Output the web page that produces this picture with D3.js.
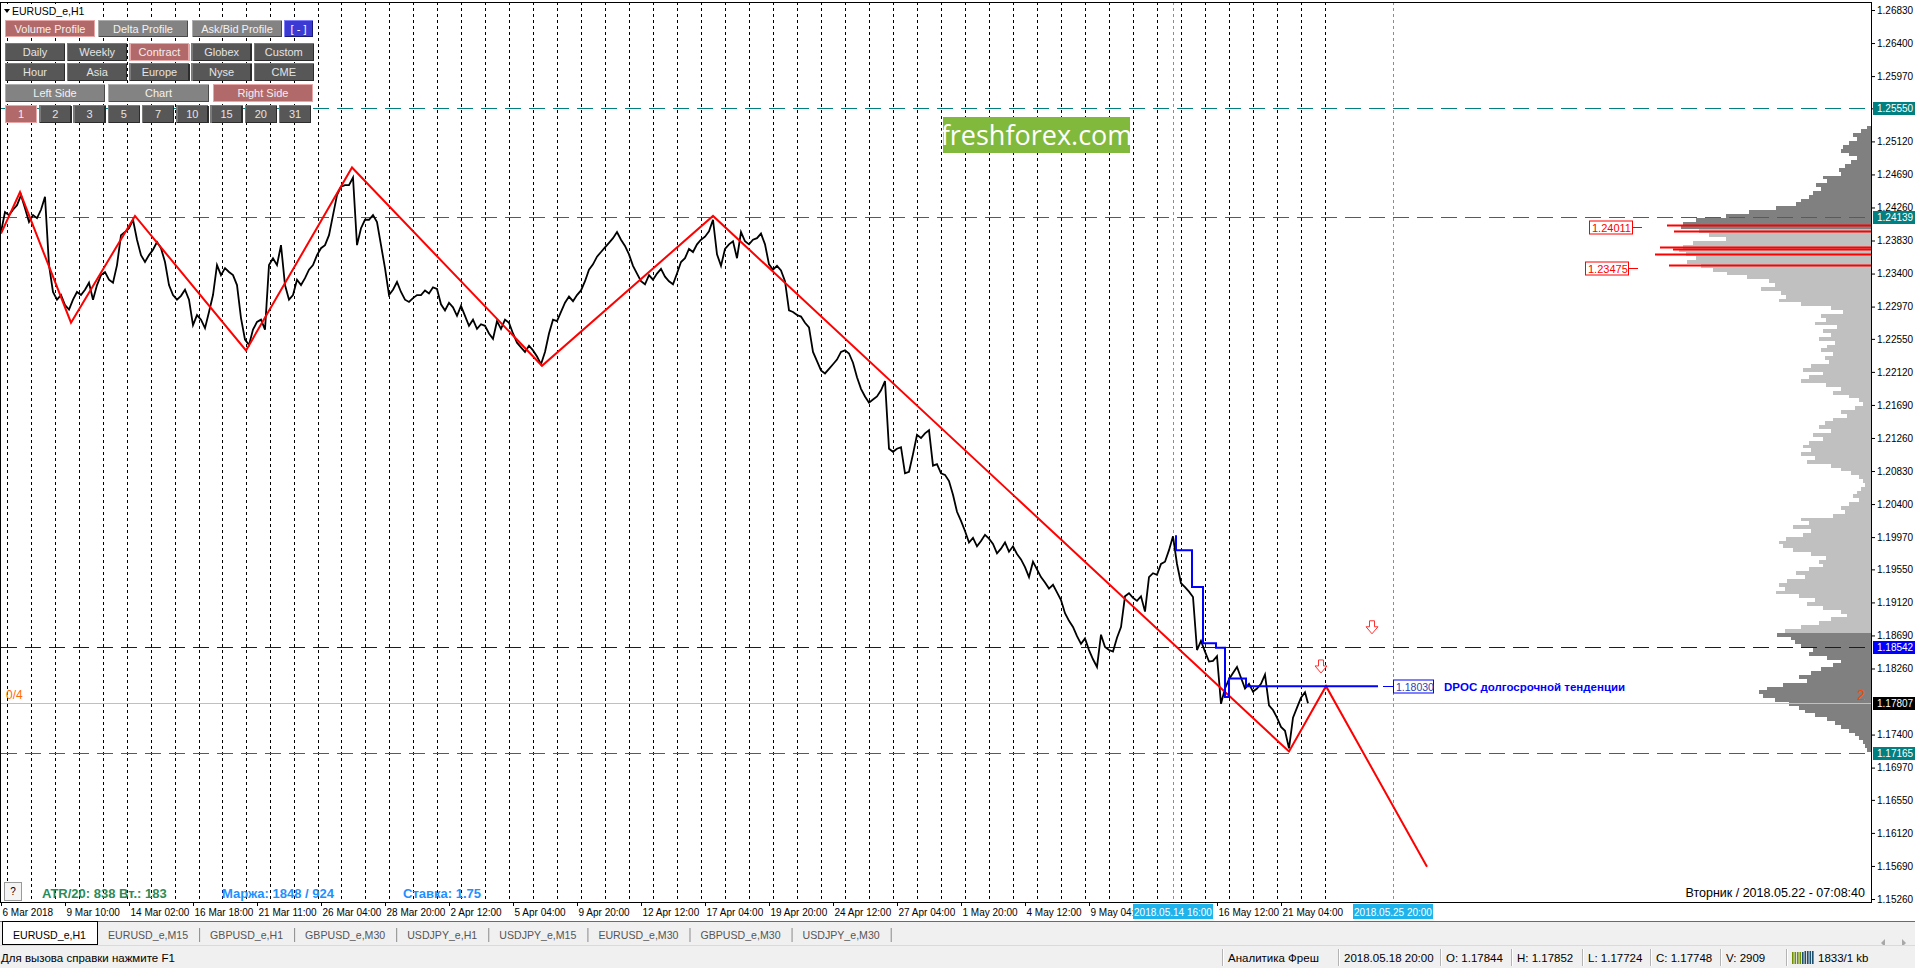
<!DOCTYPE html>
<html>
<head>
<meta charset="utf-8">
<script src="https://cdn.jsdelivr.net/npm/d3@7.9.0/dist/d3.min.js"></script>
<style>
  html, body { margin: 0; padding: 0; background: #fff; overflow: hidden; }
  svg { display: block; font-family: "Liberation Sans", Arial, sans-serif; }
</style>
</head>
<body>
<svg id="chart" width="1915" height="968"></svg>
<script>
// ---- data ----
const startTime = '2018-03-06 18:00';
const lastTime = '2018-06-01 23:00';
const missingHours = ['2018-03-19 00:00', '2018-03-26 00:00'];
const lastCloseTime = '2018-05-22 07:00';
const separatorsUntil = '2018-05-23 23:00';

// H1 closes, one value every 4 bars from startTime
const closeStep = 4;
const closes = [
  1.2394,1.2420,1.2416,1.2423,1.2429,1.2442,1.2425,1.2407,1.2416,1.2412,
  1.2423,1.2440,1.2351,1.2316,1.2306,1.2312,1.2299,1.2293,1.2306,1.2316,
  1.2312,1.2319,1.2328,1.2306,1.2325,1.2338,1.2342,1.2332,1.2328,1.2351,
  1.2390,1.2394,1.2399,1.2410,1.2384,1.2364,1.2355,1.2364,1.2371,1.2381,
  1.2373,1.2355,1.2325,1.2312,1.2306,1.2311,1.2319,1.2306,1.2273,1.2286,
  1.2280,1.2269,1.2290,1.2312,1.2351,1.2338,1.2347,1.2342,1.2338,1.2325,
  1.2282,1.2254,1.2247,1.2267,1.2277,1.2280,1.2267,1.2351,1.2360,1.2351,
  1.2377,1.2325,1.2306,1.2312,1.2332,1.2325,1.2334,1.2345,1.2351,1.2364,
  1.2373,1.2377,1.2390,1.2416,1.2442,1.2453,1.2455,1.2455,1.2465,1.2377,
  1.2399,1.2410,1.2410,1.2416,1.2407,1.2377,1.2347,1.2312,1.2319,1.2329,
  1.2316,1.2306,1.2303,1.2308,1.2312,
  1.2312,1.2318,1.2314,1.2322,1.2320,1.2300,1.2292,1.2302,1.2296,1.2285,
  1.2298,1.2285,1.2272,1.2280,1.2268,1.2274,1.2272,1.2262,1.2255,1.2278,
  1.2268,1.2280,1.2276,1.2262,1.2250,1.2244,1.2238,1.2246,1.2240,1.2232,
  1.2222,1.2238,1.2262,1.2280,1.2278,1.2290,1.2302,1.2310,1.2304,1.2312,
  1.2318,1.2330,1.2345,1.2352,1.2362,1.2368,1.2374,1.2380,1.2386,1.2394,
  1.2384,1.2376,1.2365,1.2350,1.2340,1.2330,1.2326,1.2338,1.2332,1.2340,
  1.2346,1.2336,1.2330,1.2326,1.2340,1.2355,1.2360,1.2372,1.2368,1.2378,
  1.2384,
  1.2388,1.2395,1.2410,1.2365,1.2350,1.2372,1.2378,1.2382,1.2360,1.2394,
  1.2382,1.2378,1.2384,1.2386,1.2392,1.2378,1.2352,1.2345,1.2350,1.2344,
  1.2330,1.2292,1.2290,1.2286,1.2284,1.2276,1.2270,1.2238,1.2226,1.2214,
  1.2210,1.2216,1.2222,1.2228,1.2238,1.2240,1.2236,1.2224,1.2205,1.2190,
  1.2180,1.2172,1.2176,1.2180,1.2188,1.2200,1.2112,1.2108,1.2112,1.2114,
  1.2080,1.2082,1.2105,1.2130,1.2126,1.2132,1.2136,1.2090,1.2092,1.2080,
  1.2078,1.2070,1.2052,
  1.2030,1.2018,1.2005,1.1990,1.1996,1.1985,1.1992,1.2000,1.1995,1.1988,
  1.1976,1.1982,1.1990,1.1978,1.1985,1.1975,1.1968,1.1958,1.1945,1.1965,
  1.1955,1.1945,1.1938,1.1930,1.1935,1.1925,1.1915,1.1898,1.1888,1.1880,
  1.1868,1.1858,1.1865,1.1850,1.1838,1.1828,1.1870,1.1854,1.1850,1.1848,
  1.1866,1.1880,1.1920,1.1924,1.1918,1.1914,1.1920,1.1900,1.1945,1.1950,
  1.1948,1.1962,1.1965,1.1980,1.1998,1.1962,1.1937,1.1932,1.1926,1.1919,
  1.1850,1.1862,1.1848,1.1835,1.1836,1.1842,1.1780,1.1800,1.1812,1.1820,
  1.1828,1.1814,1.1800,1.1806,1.1796,1.1800,1.1806,1.1818,1.1778,1.1772,
  1.1762,1.1750,1.1745,1.1722,1.1762,1.1775,1.1788,1.1795
];
const bidPrice = 1.17807;

const zigzagTimes = ['2018-03-06 18:00','2018-03-07 13:00','2018-03-09 16:00','2018-03-14 08:00',
  '2018-03-21 00:00','2018-03-27 11:00','2018-04-06 09:00','2018-04-17 12:00',
  '2018-05-21 12:00','2018-05-23 01:00','2018-05-29 06:00'];
const zigzagPrices = [1.2392,1.2446,1.2276,1.2415,1.2240,1.2478,1.2220,1.2415,1.1718,1.18030,1.1568];

const dpocTimes = ['2018-05-14 18:00','2018-05-14 19:00','2018-05-15 11:00','2018-05-15 22:00',
  '2018-05-16 11:00','2018-05-16 20:00','2018-05-17 00:00','2018-05-17 17:00','2018-05-25 05:00'];
const dpocPrices = [1.1998,1.1980,1.1932,1.1859,1.1853,1.1789,1.1813,1.18030,1.18030];
const dpocLabel = 'DPOC долгосрочной тенденции';

const markerTimes = ['2018-05-14 16:00', '2018-05-25 20:00'];
const arrowTimes = ['2018-05-22 20:00', '2018-05-24 23:00'];
const arrowPrices = [1.1828, 1.1879];

const tealLevels = [1.25550, 1.24139, 1.17165];
const trendLevel = 1.18542;

const priceTicks = [1.26830,1.26400,1.25970,1.25550,1.25120,1.24690,1.24260,1.23830,1.23400,
  1.22970,1.22550,1.22120,1.21690,1.21260,1.20830,1.20400,1.19970,1.19550,1.19120,1.18690,
  1.18260,1.17400,1.16970,1.16550,1.16120,1.15690,1.15260];
const timeTickEvery = 64;

// volume profile, from profileTop downwards
const profileTop = 1.2530;
const profileStep = 0.0005;
const valueAreaHigh = 1.2398;
const valueAreaLow = 1.1872;
const profileVolume = [
  4,10,18,14,22,28,30,22,14,20,
  26,32,30,48,44,55,50,58,62,70,
  75,95,122,145,175,188,190,172,162,145,
  178,188,192,185,175,184,170,158,144,124,
  102,96,110,90,85,92,70,40,28,50,
  45,56,34,48,40,52,36,44,50,38,
  46,42,60,68,48,62,70,45,30,38,
  22,12,8,16,30,24,38,46,52,40,
  58,48,62,68,60,70,56,64,40,30,
  20,12,8,6,10,14,18,12,22,30,
  26,38,70,62,78,60,68,85,92,88,
  78,60,45,52,48,62,75,66,84,92,
  86,95,72,56,64,48,30,24,40,52,
  70,86,94,80,76,70,58,62,44,30,
  38,50,60,72,64,88,104,112,108,96,
  82,72,66,56,44,36,30,22,16,12,
  8,6,4
];
const pocPrices = [1.24031, 1.23953, 1.23745, 1.23719, 1.23654, 1.23511];
const pocVolumes = [204, 197, 211, 198, 216, 202];
const pocLabelPrices = [1.24011, 1.23475];

const buttonRows = [
  ['Volume Profile', 'Delta Profile', 'Ask/Bid Profile', '[ - ]'],
  ['Daily', 'Weekly', 'Contract', 'Globex', 'Custom'],
  ['Hour', 'Asia', 'Europe', 'Nyse', 'CME'],
  ['Left Side', 'Chart', 'Right Side'],
  ['1', '2', '3', '5', '7', '10', '15', '20', '31']
];
const activeButtons = ['Volume Profile', 'Contract', 'Right Side', '1'];

const tabs = ['EURUSD_e,H1','EURUSD_e,M15','GBPUSD_e,H1','GBPUSD_e,M30','USDJPY_e,H1',
  'USDJPY_e,M15','EURUSD_e,M30','GBPUSD_e,M30','USDJPY_e,M30'];
const statusItems = ['Аналитика Фреш','2018.05.18 20:00','O: 1.17844','H: 1.17852',
  'L: 1.17724','C: 1.17748','V: 2909'];

// ---- setup ----
const svg = d3.select('#chart');
const W = 1915, H = 968;
const plot = { left: 1, right: 1871, top: 2, bottom: 902 };

const parse = d3.utcParse('%Y-%m-%d %H:%M');
const key = d3.utcFormat('%Y-%m-%d %H:%M');
const missing = new Set(missingHours);
const bars = d3.utcHour.range(parse(startTime), d3.utcHour.offset(parse(lastTime), 1))
  .filter(t => t.getUTCDay() !== 0 && t.getUTCDay() !== 6 && !missing.has(key(t)));
const barOf = new Map(bars.map((t, i) => [key(t), i]));
const bar = s => barOf.get(s);

const x = d3.scaleLinear().domain([0, plot.right - plot.left]).range([plot.left, plot.right]);
const y = d3.scaleLinear()
  .domain([priceTicks[priceTicks.length - 1], priceTicks[0]])
  .range([899, 10]);
const vol = d3.scaleLinear().domain([0, 100]).range([0, 100]);

svg.append('rect').attr('width', W).attr('height', H).attr('fill', '#fff');

const defs = svg.append('defs');
defs.append('clipPath').attr('id', 'clip')
  .append('rect')
  .attr('x', plot.left).attr('y', plot.top)
  .attr('width', plot.right - plot.left).attr('height', plot.bottom - plot.top);

const g = svg.append('g').attr('clip-path', 'url(#clip)');

// volume profile
g.append('g').selectAll('rect').data(profileVolume).join('rect')
  .attr('shape-rendering', 'crispEdges')
  .attr('x', d => plot.right - vol(d))
  .attr('y', (d, i) => Math.round(y(profileTop - i * profileStep + profileStep / 2)))
  .attr('width', d => vol(d))
  .attr('height', (d, i) => Math.round(y(profileTop - i * profileStep - profileStep / 2)) -
    Math.round(y(profileTop - i * profileStep + profileStep / 2)))
  .attr('fill', (d, i) => {
    const p = profileTop - i * profileStep;
    return (p >= valueAreaHigh || p < valueAreaLow) ? '#808080' : '#c0c0c0';
  });

g.append('g').selectAll('line').data(pocPrices).join('line')
  .attr('x1', (d, i) => plot.right - vol(pocVolumes[i])).attr('x2', plot.right)
  .attr('y1', d => Math.round(y(d)) + 0.5).attr('y2', d => Math.round(y(d)) + 0.5)
  .attr('stroke', '#ff0000').attr('stroke-width', 2);

// day separators
const sepLimit = bar(separatorsUntil);
const dayStarts = bars.map((t, i) => i).filter(i => i > 0 && i <= sepLimit &&
  bars[i].getUTCDate() !== bars[i - 1].getUTCDate());
g.append('g').selectAll('line').data(dayStarts).join('line')
  .attr('x1', d => Math.round(x(d)) + 0.5).attr('x2', d => Math.round(x(d)) + 0.5)
  .attr('y1', plot.top).attr('y2', plot.bottom)
  .attr('stroke', '#000').attr('stroke-width', 1).attr('stroke-dasharray', '3,3');

// cyan time markers
g.append('g').selectAll('line').data(markerTimes).join('line')
  .attr('x1', d => Math.round(x(bar(d))) + 0.5).attr('x2', d => Math.round(x(bar(d))) + 0.5)
  .attr('y1', plot.top).attr('y2', plot.bottom)
  .attr('stroke', '#1fb3ec').attr('stroke-width', 1).attr('stroke-dasharray', '3,3');

// horizontal levels
g.append('g').selectAll('line').data(tealLevels).join('line')
  .attr('x1', plot.left).attr('x2', plot.right)
  .attr('y1', d => Math.round(y(d)) + 0.5).attr('y2', d => Math.round(y(d)) + 0.5)
  .attr('stroke', '#008080').attr('stroke-dasharray', '16,8');
g.append('line')
  .attr('x1', plot.left).attr('x2', plot.right)
  .attr('y1', Math.round(y(trendLevel)) + 0.5).attr('y2', Math.round(y(trendLevel)) + 0.5)
  .attr('stroke', '#0000ff').attr('stroke-dasharray', '16,8');
g.append('line')
  .attr('x1', plot.left).attr('x2', plot.right)
  .attr('y1', Math.round(y(bidPrice)) + 0.5).attr('y2', Math.round(y(bidPrice)) + 0.5)
  .attr('stroke', '#c0c0c0');

// price line
const pricePts = closes.map((p, i) => [i * closeStep, p]);
pricePts.push([bar(lastCloseTime), bidPrice]);
const line = d3.line().x(d => x(d[0])).y(d => y(d[1]));
g.append('path').datum(pricePts)
  .attr('d', line)
  .attr('fill', 'none').attr('stroke', '#000').attr('stroke-width', 1.8)
  .attr('stroke-linejoin', 'miter');

// zigzag
g.append('path').datum(zigzagTimes.map((t, i) => [bar(t), zigzagPrices[i]]))
  .attr('d', line)
  .attr('fill', 'none').attr('stroke', '#ff0000').attr('stroke-width', 2);

// developing POC
g.append('path').datum(dpocTimes.map((t, i) => [bar(t), dpocPrices[i]]))
  .attr('d', d3.line().x(d => x(d[0])).y(d => y(d[1])).curve(d3.curveStepAfter))
  .attr('fill', 'none').attr('stroke', '#0000ff').attr('stroke-width', 2);

// dpoc label
const dpocEnd = bar(dpocTimes[dpocTimes.length - 1]);
const dpocY = Math.round(y(dpocPrices[dpocPrices.length - 1])) + 0.5;
const lblX = x(bar(markerTimes[1]));
svg.append('line').attr('x1', x(dpocEnd) + 5).attr('x2', lblX)
  .attr('y1', dpocY).attr('y2', dpocY).attr('stroke', '#0000ff');
svg.append('rect').attr('x', lblX + 0.5).attr('y', dpocY - 6.5).attr('width', 40).attr('height', 13)
  .attr('fill', '#fff').attr('stroke', '#0000ff');
svg.append('text').attr('x', lblX + 3).attr('y', dpocY + 4)
  .attr('font-size', 10.5).attr('fill', '#2a3fb0').text(d3.format('.5f')(dpocPrices[dpocPrices.length - 1]));
svg.append('text').attr('x', lblX + 51).attr('y', dpocY + 4.5)
  .attr('font-size', 11.5).attr('font-weight', 'bold').attr('fill', '#0000ff').text(dpocLabel);

// down arrows (hollow)
const arrowPath = 'M-2.5,-7 h5 v6 h3.5 l-6,7 l-6,-7 h3.5 z';
svg.append('g').selectAll('path').data(arrowTimes).join('path')
  .attr('transform', (d, i) => `translate(${x(bar(d))},${y(arrowPrices[i])})`)
  .attr('d', arrowPath).attr('fill', '#fff').attr('stroke', '#ff3030').attr('stroke-width', 1);

// poc labels
pocLabelPrices.forEach((p, i) => {
  const yy = Math.round(y(p)) + 0.5;
  const bx = i === 0 ? 1589 : 1585;
  svg.append('line').attr('x1', bx + 43).attr('x2', bx + 53).attr('y1', yy).attr('y2', yy)
    .attr('stroke', '#ff0000');
  svg.append('rect').attr('x', bx + 0.5).attr('y', yy - 6.5).attr('width', 43).attr('height', 13)
    .attr('fill', '#fff').attr('stroke', '#ff0000');
  svg.append('text').attr('x', bx + 3).attr('y', yy + 4).attr('font-size', 11)
    .attr('fill', '#ff0000').text(d3.format('.5f')(p));
});

// frame
svg.append('rect')
  .attr('x', plot.left - 0.5).attr('y', plot.top + 0.5)
  .attr('width', plot.right - plot.left + 0.5).attr('height', plot.bottom - plot.top)
  .attr('fill', 'none').attr('stroke', '#000').attr('shape-rendering', 'crispEdges');

// price axis
const yAxis = svg.append('g').attr('transform', `translate(${plot.right},0)`)
  .call(d3.axisRight(y).tickValues(priceTicks).tickSize(4).tickFormat(d3.format('.5f')));
yAxis.select('.domain').remove();
yAxis.selectAll('text').attr('font-size', 10).attr('font-family', '"Liberation Sans", Arial, sans-serif')
  .attr('x', 6).attr('fill', '#000');
yAxis.selectAll('line').attr('stroke', '#000');

function axisBox(price, bg) {
  const yy = Math.round(y(price));
  svg.append('rect').attr('x', plot.right + 2).attr('y', yy - 6).attr('width', 42).attr('height', 13)
    .attr('fill', bg);
  svg.append('text').attr('x', plot.right + 6).attr('y', yy + 4).attr('font-size', 10)
    .attr('fill', '#fff').text(d3.format('.5f')(price));
}
tealLevels.forEach(p => axisBox(p, '#008080'));
axisBox(trendLevel, '#0000ff');
axisBox(bidPrice, '#000');

// time axis (labels fully hidden under a marker box are not drawn,
// labels partly under a box are cut at the box edge like the terminal does)
const lastBar = bar(lastCloseTime);
const markerBars = markerTimes.map(bar);
const tickBars = d3.range(0, lastBar + 1, timeTickEvery)
  .filter(b => !markerBars.some(m => b >= m - 40 && b <= m + 40));
const fmtFirst = d3.utcFormat('%-d %b %Y');
const fmtTick = d3.utcFormat('%-d %b %H:%M');

const axisClip = defs.append('clipPath').attr('id', 'axisclip');
const boxEdges = [0].concat(markerBars.flatMap(m => [x(m) - 40, x(m) + 40]), [W]);
for (let k = 0; k < boxEdges.length; k += 2) {
  axisClip.append('rect').attr('x', boxEdges[k] - (k ? 0 : 10)).attr('y', plot.bottom)
    .attr('width', boxEdges[k + 1] - boxEdges[k] + (k ? 0 : 10)).attr('height', 20);
}

const xAxis = svg.append('g').attr('transform', `translate(0,${plot.bottom})`)
  .call(d3.axisBottom(x).tickValues(tickBars).tickSize(4)
    .tickFormat((d, i) => i === 0 ? fmtFirst(bars[d]) : fmtTick(bars[d])));
xAxis.select('.domain').remove();
xAxis.selectAll('text').attr('text-anchor', 'start').attr('x', 1).attr('y', 7)
  .attr('font-size', 10).attr('font-family', '"Liberation Sans", Arial, sans-serif').attr('fill', '#000');
xAxis.selectAll('line').attr('stroke', '#000');
xAxis.attr('clip-path', 'url(#axisclip)');
axisClip.attr('transform', `translate(0,${-plot.bottom})`);

const fmtMarker = d3.utcFormat('%Y.%m.%d %H:%M');
markerTimes.forEach(t => {
  const mx = x(bar(t));
  svg.append('rect').attr('x', mx - 40).attr('y', plot.bottom + 2).attr('width', 80).attr('height', 15)
    .attr('fill', '#1fb3ec');
  svg.append('text').attr('x', mx).attr('y', plot.bottom + 13.5).attr('text-anchor', 'middle')
    .attr('font-size', 10).attr('fill', '#fff').text(fmtMarker(bars[bar(t)]));
});

// buttons panel
svg.append('rect').attr('x', 3).attr('y', 4).attr('width', 77).attr('height', 14).attr('fill', '#fff');
svg.append('path').attr('d', 'M4,9 h6 l-3,4 z').attr('fill', '#000');
svg.append('text').attr('x', 12).attr('y', 15).attr('font-size', 10.5).attr('fill', '#000').text('EURUSD_e,H1');

const palette = {
  active: { fill: '#b26969', hi: '#e8a6a6', lo: '#e8a6a6', text: '#f4eeee' },
  gray: { fill: '#838383', hi: '#adadad', lo: '#4a4a4a', text: '#f2f2f2' },
  dark: { fill: '#575757', hi: '#7a7a7a', lo: '#2c2c2c', text: '#e4e4e4' },
  blue: { fill: '#3b3bd4', hi: '#8080ff', lo: '#1a1a7a', text: '#ffffff' }
};
const rowY = [20, 43, 63, 84, 105];
const rowH = [17, 18, 18, 18, 18];
const rowLayout = [
  [[5, 90], [98, 90], [192, 90], [284, 29]],
  d3.range(5).map(k => [5 + 62.2 * k, 60]),
  d3.range(5).map(k => [5 + 62.2 * k, 60]),
  [[5, 100], [108, 101], [213, 100]],
  d3.range(9).map(k => [5 + 34.25 * k, 32])
];
buttonRows.forEach((row, r) => {
  row.forEach((label, c) => {
    const [bx, bw] = rowLayout[r][c];
    const by = rowY[r], bh = rowH[r];
    let kind = (r === 0 || r === 3) ? 'gray' : 'dark';
    if (label === '[ - ]') kind = 'blue';
    if (activeButtons.includes(label)) kind = 'active';
    const pal = palette[kind];
    const b = svg.append('g').attr('shape-rendering', 'crispEdges');
    b.append('rect').attr('x', bx).attr('y', by).attr('width', bw).attr('height', bh).attr('fill', pal.fill);
    b.append('path').attr('d', `M${bx + 0.5},${by + bh}V${by + 0.5}H${bx + bw}`)
      .attr('fill', 'none').attr('stroke', pal.hi).attr('stroke-width', 1.5);
    b.append('path').attr('d', `M${bx + 1},${by + bh - 0.5}H${bx + bw - 0.5}V${by + 1}`)
      .attr('fill', 'none').attr('stroke', pal.lo).attr('stroke-width', 1.5);
    svg.append('text').attr('x', bx + bw / 2).attr('y', by + bh / 2 + 4)
      .attr('text-anchor', 'middle').attr('font-size', 11).attr('fill', pal.text).text(label);
  });
});

// logo
svg.append('rect').attr('x', 943).attr('y', 117).attr('width', 187).attr('height', 36).attr('fill', '#80b93c');
svg.append('text').attr('x', 1036.5).attr('y', 145).attr('text-anchor', 'middle')
  .attr('font-family', '"Open Sans", sans-serif').attr('font-size', 27).attr('fill', '#fff')
  .text('freshforex.com');

// info texts
svg.append('text').attr('x', 6).attr('y', 699).attr('font-size', 12).attr('fill', '#ff6a00').text('0/4');
svg.append('text').attr('x', 1857).attr('y', 700).attr('font-size', 14).attr('fill', '#ff4500').text('2');

svg.append('rect').attr('x', 4.5).attr('y', 882.5).attr('width', 17).attr('height', 18)
  .attr('fill', '#f4f4f4').attr('stroke', '#9a9a9a');
svg.append('text').attr('x', 13).attr('y', 895).attr('text-anchor', 'middle').attr('font-size', 10).text('?');
svg.append('text').attr('x', 42).attr('y', 898).attr('font-size', 13).attr('font-weight', 'bold')
  .attr('fill', '#2e8b57').text('ATR/20: 838  Вт.: 183');
svg.append('text').attr('x', 222).attr('y', 898).attr('font-size', 13).attr('font-weight', 'bold')
  .attr('fill', '#1e90ff').text('Маржа: 1848 / 924');
svg.append('text').attr('x', 403).attr('y', 898).attr('font-size', 13).attr('font-weight', 'bold')
  .attr('fill', '#1e90ff').text('Ставка: 1.75');
svg.append('text').attr('x', 1865).attr('y', 897).attr('text-anchor', 'end').attr('font-size', 12.5)
  .attr('fill', '#000').text('Вторник / 2018.05.22 - 07:08:40');

// tabs
svg.append('rect').attr('x', 0).attr('y', 921).attr('width', W).attr('height', 25).attr('fill', '#f0f0f0');
svg.append('line').attr('x1', 0).attr('x2', W).attr('y1', 921.5).attr('y2', 921.5).attr('stroke', '#6b6b6b');
let cursor = 2;
tabs.forEach((t, i) => {
  const txt = svg.append('text').attr('x', cursor + 11).attr('y', 939).attr('font-size', 10.6)
    .attr('fill', i === 0 ? '#000' : '#555').text(t);
  const w = txt.node().getComputedTextLength();
  const end = cursor + w + 22;
  if (i === 0) {
    svg.insert('rect', () => txt.node()).attr('x', cursor + 0.5).attr('y', 921.5)
      .attr('width', end - cursor).attr('height', 23).attr('fill', '#fff').attr('stroke', '#000');
  } else {
    svg.append('line').attr('x1', end + 0.5).attr('x2', end + 0.5).attr('y1', 928).attr('y2', 942)
      .attr('stroke', '#8a8a8a');
  }
  cursor = end;
});
svg.append('path').attr('d', 'M1881,943 l4,-4 v8 z').attr('fill', '#a8a8a8');
svg.append('path').attr('d', 'M1902,939 l4,4 l-4,4 z').attr('fill', '#a8a8a8');

// status bar
svg.append('rect').attr('x', 0).attr('y', 946).attr('width', W).attr('height', 22).attr('fill', '#f0f0f0');
svg.append('line').attr('x1', 0).attr('x2', W).attr('y1', 945.5).attr('y2', 945.5).attr('stroke', '#dadada');
svg.append('text').attr('x', 1).attr('y', 962).attr('font-size', 11.5).attr('fill', '#000')
  .text('Для вызова справки нажмите F1');
const statusSeps = [1222, 1338, 1440, 1511, 1582, 1650, 1720, 1786];
statusSeps.forEach(sx => {
  svg.append('line').attr('x1', sx + 0.5).attr('x2', sx + 0.5).attr('y1', 949).attr('y2', 966).attr('stroke', '#b4b4b4');
  svg.append('line').attr('x1', sx + 1.5).attr('x2', sx + 1.5).attr('y1', 949).attr('y2', 966).attr('stroke', '#fff');
});
statusItems.forEach((s, i) => {
  svg.append('text').attr('x', statusSeps[i] + 6).attr('y', 962).attr('font-size', 11.5)
    .attr('fill', '#000').text(s);
});
d3.range(9).forEach(k => {
  svg.append('rect').attr('x', 1792 + k * 2.5).attr('y', 951 + (k < 5 ? 1 : 0)).attr('width', 1.6)
    .attr('height', 13 - (k < 5 ? 1 : 0)).attr('fill', k < 4 ? '#6f8f00' : '#1d4f6e');
});
svg.append('text').attr('x', 1818).attr('y', 962).attr('font-size', 11.5).attr('fill', '#000').text('1833/1 kb');
</script>
</body>
</html>
